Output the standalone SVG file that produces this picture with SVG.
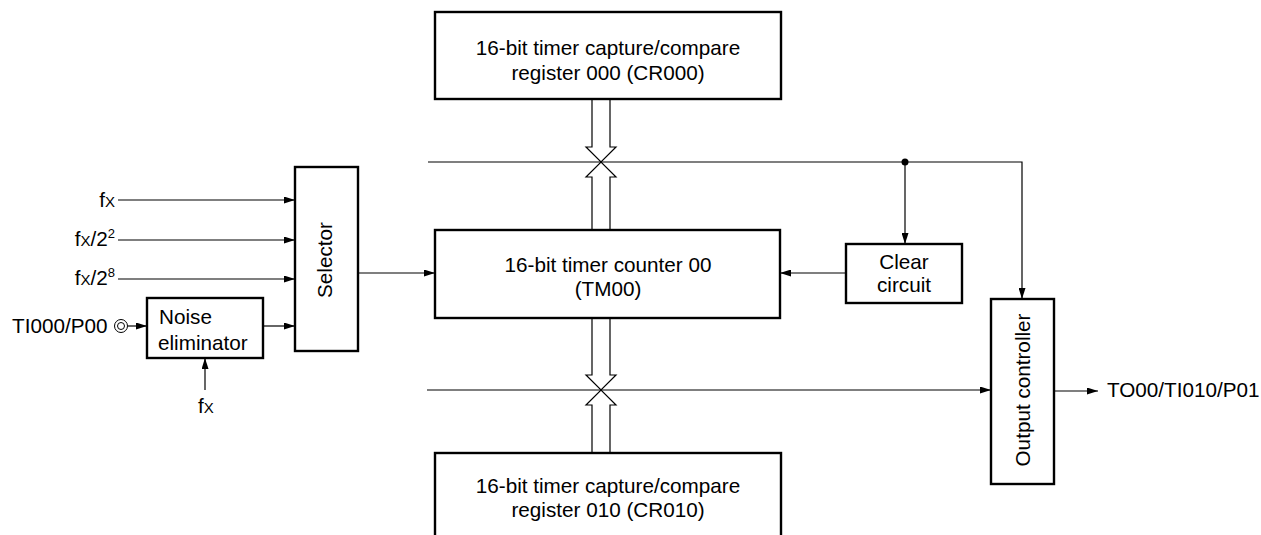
<svg xmlns="http://www.w3.org/2000/svg" width="1261" height="535" viewBox="0 0 1261 535">
<style>
.box{fill:#fff;stroke:#000;stroke-width:2.4}
.ln{fill:none;stroke:#000;stroke-width:1.2}
.bus{fill:#fff;stroke:#000;stroke-width:1.2;stroke-linejoin:miter}
text{font-family:"Liberation Sans",Arial,sans-serif;font-size:20.7px;fill:#000}
.c{text-anchor:middle}
.e{text-anchor:end}
</style>
<defs>
<marker id="ah" viewBox="0 0 11 7" refX="11" refY="3.5" markerWidth="11" markerHeight="7" markerUnits="userSpaceOnUse" orient="auto">
<path d="M0,0 L11,3.5 L0,7 z" fill="#000"/>
</marker>
</defs>

<g id="connectors">
<line class="ln" x1="118" y1="200" x2="295" y2="200" marker-end="url(#ah)"/>
<line class="ln" x1="118" y1="240" x2="295" y2="240" marker-end="url(#ah)"/>
<line class="ln" x1="118" y1="279" x2="295" y2="279" marker-end="url(#ah)"/>
<line class="ln" x1="128" y1="326" x2="147" y2="326" marker-end="url(#ah)"/>
<line class="ln" x1="263" y1="326" x2="295" y2="326" marker-end="url(#ah)"/>
<line class="ln" x1="205" y1="390" x2="205" y2="358" marker-end="url(#ah)"/>
<line class="ln" x1="358" y1="273" x2="435" y2="273" marker-end="url(#ah)"/>
<line class="ln" x1="846" y1="273" x2="780" y2="273" marker-end="url(#ah)"/>
<polyline class="ln" points="428,162 1022,162 1022,299" marker-end="url(#ah)"/>
<line class="ln" x1="905" y1="162" x2="905" y2="244" marker-end="url(#ah)"/>
<circle cx="905" cy="162" r="3.5" fill="#000"/>
<line class="ln" x1="427" y1="390" x2="991" y2="390" marker-end="url(#ah)"/>
<line class="ln" x1="1054" y1="391" x2="1098" y2="391" marker-end="url(#ah)"/>
<polyline class="bus" points="592,99 592,147 586,147 601,162 616,147 610,147 610,99"/>
<polyline class="bus" points="592,230 592,177 586,177 601,162 616,177 610,177 610,230"/>
<polyline class="bus" points="592,318 592,375 586,375 601,390 616,375 610,375 610,318"/>
<polyline class="bus" points="592,453 592,405 586,405 601,390 616,405 610,405 610,453"/>
</g>

<g id="cr000">
<rect class="box" x="435" y="12" width="346" height="87"/>
<text class="c" x="608" y="55">16-bit timer capture/compare</text>
<text class="c" x="608" y="80">register 000 (CR000)</text>
</g>

<g id="tm00">
<rect class="box" x="435" y="230" width="345" height="88"/>
<text class="c" x="608" y="272">16-bit timer counter 00</text>
<text class="c" x="608" y="296">(TM00)</text>
</g>

<g id="cr010">
<rect class="box" x="435" y="453" width="346" height="95"/>
<text class="c" x="608" y="493">16-bit timer capture/compare</text>
<text class="c" x="608" y="517">register 010 (CR010)</text>
</g>

<g id="selector">
<rect class="box" x="295" y="167" width="63" height="184"/>
<text class="c" transform="translate(332,260) rotate(-90)">Selector</text>
</g>

<g id="noise">
<rect class="box" x="147" y="298" width="116" height="60"/>
<text x="159" y="324">Noise</text>
<text x="158" y="350">eliminator</text>
</g>

<g id="clear">
<rect class="box" x="846" y="244" width="116" height="59"/>
<text class="c" x="904" y="269">Clear</text>
<text class="c" x="904" y="292">circuit</text>
</g>

<g id="output">
<rect class="box" x="991" y="299" width="63" height="185"/>
<text class="c" transform="translate(1030,390) rotate(-90)">Output controller</text>
</g>

<g id="labels">
<text class="e" x="115" y="207">f<tspan font-size="15">X</tspan></text>
<text class="e" x="115" y="246">f<tspan font-size="15">X</tspan>/2<tspan font-size="13" dy="-8">2</tspan></text>
<text class="e" x="115" y="285">f<tspan font-size="15">X</tspan>/2<tspan font-size="13" dy="-8">8</tspan></text>
<text x="12" y="333">TI000/P00</text>
<circle cx="121" cy="326" r="6.5" fill="none" stroke="#000" stroke-width="1"/>
<circle cx="121" cy="326" r="3.5" fill="none" stroke="#000" stroke-width="1"/>
<text x="198" y="413">f<tspan font-size="15">X</tspan></text>
<text x="1107" y="397">TO00/TI010/P01</text>
</g>
</svg>
